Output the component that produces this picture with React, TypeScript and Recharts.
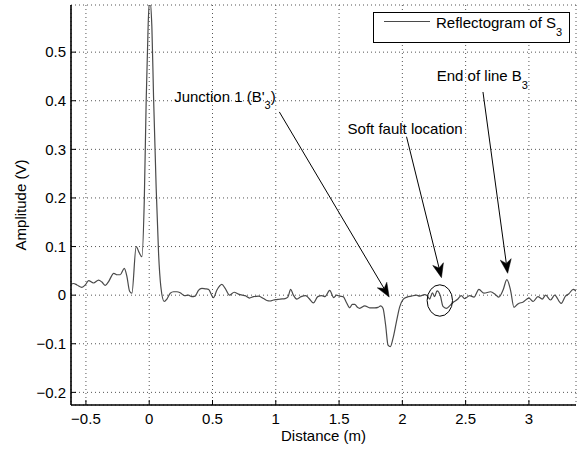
import * as React from 'react';
import {
  LineChart,
  Line,
  XAxis,
  YAxis,
  CartesianGrid,
  Legend,
  ReferenceLine,
  ReferenceDot,
} from 'recharts';

// distance (m) and reflectogram amplitude (V)
const distance = [
  -0.624, -0.598, -0.571, -0.532, -0.505, -0.479, -0.44, -0.4, -0.374, -0.347,
  -0.321, -0.28, -0.255, -0.229, -0.197, -0.176, -0.155, -0.137, -0.103, -0.08,
  -0.058, -0.039, -0.024, -0.008, 0.004, 0.021, 0.034, 0.055, 0.074, 0.092,
  0.118, 0.14, 0.166, 0.192, 0.218, 0.245, 0.279, 0.31, 0.337, 0.363,
  0.389, 0.416, 0.442, 0.468, 0.508, 0.534, 0.574, 0.6, 0.634, 0.671,
  0.705, 0.735, 0.758, 0.792, 0.824, 0.863, 0.903, 0.929, 0.955, 0.982,
  1.008, 1.034, 1.074, 1.095, 1.118, 1.139, 1.166, 1.2, 1.237, 1.263,
  1.297, 1.332, 1.363, 1.389, 1.426, 1.458, 1.48, 1.505, 1.532, 1.558,
  1.584, 1.605, 1.624, 1.645, 1.663, 1.703, 1.742, 1.782, 1.808, 1.829,
  1.847, 1.868, 1.887, 1.905, 1.926, 1.953, 1.979, 2.005, 2.037, 2.071,
  2.11, 2.137, 2.176, 2.195, 2.216, 2.237, 2.255, 2.274, 2.3, 2.321,
  2.347, 2.374, 2.4, 2.434, 2.466, 2.492, 2.532, 2.566, 2.605, 2.645,
  2.697, 2.737, 2.762, 2.795, 2.826, 2.855, 2.882, 2.913, 2.955, 3.0,
  3.034, 3.071, 3.105, 3.132, 3.171, 3.203, 3.255, 3.289, 3.316, 3.35,
  3.375,
];
const amplitude = [
  0.022, 0.024, 0.021, 0.016, 0.021, 0.03, 0.025, 0.031, 0.027, 0.02,
  0.028, 0.045, 0.042, 0.042, 0.055, 0.038, 0.008, 0.004, 0.1, 0.088,
  0.079, 0.195, 0.4, 0.56, 0.61, 0.552, 0.41, 0.22, 0.085, 0.017,
  -0.013, -0.008, 0.004, 0.007, 0.007, 0.005, -0.001, 0.0, -0.003, -0.002,
  0.01, 0.014, 0.013, 0.012, -0.005, 0.01, 0.022, 0.014, 0.0, 0.006,
  0.002, 0.0, -0.001, -0.006, -0.003, -0.002, -0.007, -0.011, -0.012, -0.01,
  -0.009, -0.008, -0.007, -0.004, 0.012, 0.0, -0.008, -0.003, -0.001, -0.007,
  -0.016, -0.003, -0.001, -0.003, 0.01, -0.005, 0.0, -0.002, -0.003, -0.015,
  -0.026, -0.019, -0.019, -0.025, -0.027, -0.022, -0.026, -0.026, -0.025, -0.022,
  -0.027, -0.062, -0.103, -0.106, -0.089, -0.055, -0.024, -0.009, -0.004, -0.002,
  0.0, -0.002, 0.001, -0.001, -0.008, 0.005, -0.003, 0.009, -0.001, -0.023,
  -0.027, -0.022, -0.015, -0.009, -0.001, -0.007, -0.001, -0.004, 0.012, 0.004,
  0.007, 0.001, -0.004, 0.01, 0.032, 0.01, -0.025, -0.018, -0.014, -0.006,
  -0.013, -0.003, -0.008, 0.0, -0.01, 0.0, -0.017, -0.002, 0.003, 0.012,
  0.008,
];

const xTicks = [-0.5, 0, 0.5, 1, 1.5, 2, 2.5, 3];
const yTicks = [-0.2, -0.1, 0, 0.1, 0.2, 0.3, 0.4, 0.5];

// annotations, in data units
const arrowTail = [[1.028, 0.377], [2.033, 0.326], [2.637, 0.418]];
const arrowTip = [[1.896, -0.004], [2.309, 0.036], [2.832, 0.045]];
const noteAnchor = [[0.197, 0.398], [1.567, 0.331], [2.272, 0.44]];
const noteText = ["Junction 1 (B'", 'Soft fault location', 'End of line B'];
const noteSub = ['3', '', '3'];
const noteAfter = [')', '', ''];
const faultCircle = [2.296, -0.011];

const data = distance.map((d, i) => ({ d, a: amplitude[i] }));

const FONT = '"Liberation Sans", Arial, Helvetica, sans-serif';

const fmt = (v: number) => (v < 0 ? '\u2212' + Math.abs(v) : String(v));

const arrowShape = (props: any) => {
  const { x1, y1, x2, y2 } = props;
  const dx = x2 - x1;
  const dy = y2 - y1;
  const len = Math.hypot(dx, dy) || 1;
  const ux = dx / len;
  const uy = dy / len;
  const hl = 14;
  const hw = 5.5;
  const bx = x2 - ux * hl;
  const by = y2 - uy * hl;
  const nx = x2 - ux * (hl - 4);
  const ny = y2 - uy * (hl - 4);
  const pts = [
    [x2, y2],
    [bx - uy * hw, by + ux * hw],
    [nx, ny],
    [bx + uy * hw, by - ux * hw],
  ]
    .map((p) => p.join(','))
    .join(' ');
  return (
    <g>
      <line x1={x1} y1={y1} x2={nx} y2={ny} stroke="#000" strokeWidth={1} />
      <polygon points={pts} fill="#000" stroke="#000" strokeWidth={0.5} />
    </g>
  );
};

const noteShape = (i: number) => (props: any) => (
  <text x={props.cx} y={props.cy} fontSize={15} fill="#000" fontFamily={FONT}>
    {noteText[i]}
    {noteSub[i] ? (
      <tspan dy={7.5} fontSize={11}>
        {noteSub[i]}
      </tspan>
    ) : null}
    {noteAfter[i] ? <tspan dy={-7.5}>{noteAfter[i]}</tspan> : null}
  </text>
);

const circleShape = (props: any) => (
  <ellipse cx={props.cx} cy={props.cy} rx={12.7} ry={15.7} fill="none" stroke="#000" strokeWidth={1} />
);

const LegendBox = () => (
  <svg width={197} height={31} style={{ display: 'block' }}>
    <rect x={0.5} y={0.5} width={196} height={30} fill="#fff" stroke="#000" strokeWidth={1} />
    <line x1={11} x2={57} y1={9.5} y2={9.5} stroke="#4a4a4a" strokeWidth={1.2} />
    <text x={63} y={16.3} fontSize={15} fill="#000" fontFamily={FONT}>
      Reflectogram of S
      <tspan dy={7.7} fontSize={11}>
        3
      </tspan>
    </text>
  </svg>
);

export default function App() {
  return (
    <div
      style={{
        position: 'absolute',
        left: 0,
        top: 0,
        width: 579,
        height: 450,
        background: '#fff',
        fontFamily: FONT,
      }}
    >
      <LineChart width={579} height={450} data={data} margin={{ top: 5, right: 3, bottom: 0, left: 0 }}>
        <CartesianGrid stroke="#555" strokeDasharray="1 3" />
        <XAxis
          xAxisId={0}
          type="number"
          dataKey="d"
          domain={[-0.618, 3.372]}
          allowDataOverflow
          ticks={xTicks}
          tickFormatter={fmt}
          height={45}
          tickSize={-5}
          tickMargin={13}
          interval={0}
          axisLine={{ stroke: '#000', strokeWidth: 1.6 }}
          tickLine={{ stroke: '#000' }}
          tick={{ fontSize: 15, fill: '#000' }}
          label={(p: any) => (
            <text
              x={p.viewBox.x + p.viewBox.width / 2}
              y={p.viewBox.y + 36}
              textAnchor="middle"
              fontSize={15}
              fill="#000"
            >
              Distance (m)
            </text>
          )}
        />
        <XAxis
          xAxisId="top"
          orientation="top"
          type="number"
          dataKey="d"
          domain={[-0.618, 3.372]}
          allowDataOverflow
          ticks={xTicks}
          height={0}
          tickSize={-5}
          tick={false}
          interval={0}
          axisLine={{ stroke: '#000', strokeWidth: 1.6 }}
          tickLine={{ stroke: '#000' }}
        />
        <YAxis
          yAxisId={0}
          type="number"
          domain={[-0.226, 0.597]}
          allowDataOverflow
          ticks={yTicks}
          tickFormatter={fmt}
          width={71}
          tickSize={-5}
          tickMargin={10}
          interval={0}
          axisLine={{ stroke: '#000', strokeWidth: 1.6 }}
          tickLine={{ stroke: '#000' }}
          tick={{ fontSize: 15, fill: '#000' }}
          label={(p: any) => {
            const x = p.viewBox.x + 26;
            const y = p.viewBox.y + p.viewBox.height / 2;
            return (
              <text x={x} y={y} transform={`rotate(-90 ${x} ${y})`} textAnchor="middle" fontSize={15} fill="#000">
                Amplitude (V)
              </text>
            );
          }}
        />
        <YAxis
          yAxisId="right"
          orientation="right"
          type="number"
          domain={[-0.226, 0.597]}
          allowDataOverflow
          ticks={yTicks}
          width={0}
          tickSize={-5}
          tick={false}
          interval={0}
          axisLine={{ stroke: '#000', strokeWidth: 1.6 }}
          tickLine={{ stroke: '#000' }}
        />
        <Legend
          layout="horizontal"
          verticalAlign="middle"
          align="center"
          wrapperStyle={{ left: 373, top: 12, width: 197, height: 31 }}
          content={() => <LegendBox />}
        />
        <Line
          type="monotone"
          dataKey="a"
          name="Reflectogram of S3"
          stroke="#4a4a4a"
          strokeWidth={1.2}
          dot={false}
          activeDot={false}
          isAnimationActive={false}
        />
        {arrowTail.map((t, i) => (
          <ReferenceLine
            key={'arr' + i}
            segment={[
              { x: t[0], y: t[1] },
              { x: arrowTip[i][0], y: arrowTip[i][1] },
            ]}
            ifOverflow="visible"
            shape={arrowShape}
          />
        ))}
        {noteAnchor.map((n, i) => (
          <ReferenceDot key={'note' + i} x={n[0]} y={n[1]} ifOverflow="visible" shape={noteShape(i)} />
        ))}
        <ReferenceDot x={faultCircle[0]} y={faultCircle[1]} ifOverflow="visible" shape={circleShape} />
      </LineChart>
    </div>
  );
}
